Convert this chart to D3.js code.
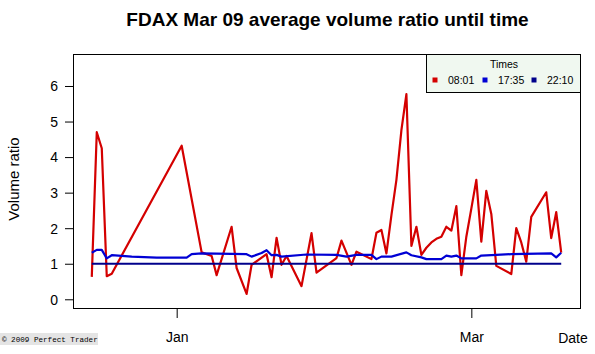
<!DOCTYPE html>
<html>
<head>
<meta charset="utf-8">
<script src="https://cdn.jsdelivr.net/npm/d3@7"></script>
<style>
  body { margin: 0; background: #fff; }
</style>
</head>
<body>
<div id="chart"></div>
<script>
// day offsets from 2009-01-01 and ratios
const redDays = [-17, -16, -15, -14, -13, 1, 5, 7, 8, 11, 12, 14, 15, 18, 19, 20, 21, 22, 25, 27, 28,
  32, 33, 35, 36, 39, 40, 41, 42, 43, 44, 45, 46, 47, 48, 49, 50, 51, 52, 53, 54, 55, 56, 57, 58, 59,
  60, 61, 62, 63, 64, 67, 68, 69, 70, 71, 74, 75, 76, 77];
const redVals = [0.63, 4.7, 4.25, 0.65, 0.72, 4.32, 1.32, 1.22, 0.68, 2.04, 0.88, 0.15, 0.97, 1.27, 0.62, 1.73, 0.97, 1.22, 0.37, 1.86, 0.75,
  1.16, 1.65, 0.97, 1.34, 1.13, 1.87, 1.95, 1.29, 2.37, 3.36, 4.76, 5.77, 1.5, 2.04, 1.25, 1.45, 1.6, 1.7, 1.76, 2.04, 1.93, 2.62, 0.68, 1.76, 2.55,
  3.36, 1.62, 3.05, 2.4, 0.94, 0.71, 2.0, 1.6, 1.06, 2.32, 3.01, 1.72, 2.45, 1.31];

const blueDays = [-17, -16, -15, -14, -13, -9, -4, 2, 3, 5, 14, 15, 17, 18, 19, 20, 21, 26, 32, 34, 36, 39, 40, 41, 43,
  46, 47, 49, 50, 53, 54, 55, 56, 57, 60, 61, 64, 67, 75, 76, 77];
const blueVals = [1.31, 1.39, 1.39, 1.15, 1.24, 1.2, 1.17, 1.17, 1.27, 1.29, 1.27, 1.2, 1.3, 1.38, 1.24, 1.25, 1.2, 1.26, 1.25, 1.2, 1.25, 1.25, 1.13, 1.2, 1.2,
  1.32, 1.24, 1.18, 1.13, 1.13, 1.23, 1.2, 1.23, 1.15, 1.15, 1.23, 1.25, 1.27, 1.29, 1.18, 1.31];

const navyDays = [-17, 77];
const navyVals = [1.0, 1.0];

const seriesNames = ["08:01", "17:35", "22:10"];
const seriesColors = ["#d40000", "#0000d4", "#00008b"];
const yTicks = [0, 1, 2, 3, 4, 5, 6];
const xTickDates = ["2009-01-01", "2009-03-01"];
const xTickLabels = ["Jan", "Mar"];

const width = 595, height = 354;
const mLeft = 73, mRight = 580, mTop = 54, mBottom = 308;
const sans = "Liberation Sans, Arial, sans-serif";

const base = new Date(2009, 0, 1);
const toDate = (d) => d3.timeDay.offset(base, d);
const mk = (days, vals) => days.map((d, i) => ({ date: toDate(d), v: vals[i] }));
const series = [mk(redDays, redVals), mk(blueDays, blueVals), mk(navyDays, navyVals)];

// R style 4% padding around data extent
const ext = d3.extent(redDays.concat(blueDays));
const pad = (ext[1] - ext[0]) * 0.04;
const x = d3.scaleTime()
  .domain([new Date(+toDate(ext[0]) - pad * 864e5), new Date(+toDate(ext[1]) + pad * 864e5)])
  .range([mLeft, mRight]);
const y = d3.scaleLinear().domain([-0.245, 6.9]).range([mBottom, mTop]);

const svg = d3.select("#chart").append("svg")
  .attr("width", width).attr("height", height)
  .style("font-family", sans);

svg.append("text")
  .attr("x", (mLeft + mRight) / 2 + 1).attr("y", 26)
  .attr("text-anchor", "middle")
  .attr("font-size", 19).attr("font-weight", "bold")
  .text("FDAX Mar 09 average volume ratio until time");

// y axis
const yAxis = svg.append("g").attr("transform", `translate(${mLeft - 8},0)`)
  .call(d3.axisLeft(y).tickValues(yTicks).tickSize(8).tickPadding(6));
yAxis.select(".domain").remove();
yAxis.selectAll("line").attr("transform", "translate(8,0)").attr("stroke", "#000");
yAxis.selectAll("text").attr("font-size", 14).attr("font-family", sans)
  .attr("fill", "#000").attr("dy", "0.35em").attr("x", -7);

svg.append("text")
  .attr("transform", `translate(19,${(mTop + mBottom) / 2 - 2}) rotate(-90)`)
  .attr("text-anchor", "middle").attr("font-size", 15)
  .text("Volume ratio");

// x axis
const xAxis = svg.append("g").attr("transform", `translate(0,${mBottom})`)
  .call(d3.axisBottom(x)
    .tickValues(xTickDates.map((s) => d3.timeParse("%Y-%m-%d")(s)))
    .tickFormat((d, i) => xTickLabels[i])
    .tickSize(10).tickPadding(14));
xAxis.select(".domain").remove();
xAxis.selectAll("line").attr("stroke", "#000");
xAxis.selectAll("text").attr("font-size", 14).attr("font-family", sans).attr("fill", "#000");

svg.append("text")
  .attr("x", 573).attr("y", 343)
  .attr("text-anchor", "middle").attr("font-size", 14)
  .text("Date");

// lines
const line = d3.line().x((d) => x(d.date)).y((d) => y(d.v));
svg.append("g").selectAll("path")
  .data(series)
  .join("path")
  .attr("d", line)
  .attr("fill", "none")
  .attr("stroke", (d, i) => seriesColors[i])
  .attr("stroke-width", 2.2)
  .attr("stroke-linejoin", "round");

// plot box
svg.append("rect")
  .attr("x", mLeft + 0.5).attr("y", mTop + 0.5)
  .attr("width", mRight - mLeft).attr("height", mBottom - mTop)
  .attr("fill", "none").attr("stroke", "#000");

// legend
const lg = svg.append("g");
lg.append("rect")
  .attr("x", 426.5).attr("y", mTop + 0.5)
  .attr("width", mRight - 426).attr("height", 38)
  .attr("fill", "#f0f8f0").attr("stroke", "#000");
lg.append("text")
  .attr("x", 504).attr("y", 68)
  .attr("text-anchor", "middle").attr("font-size", 10.5)
  .text("Times");
const legX = [435, 485, 534];
lg.selectAll("g.item")
  .data(seriesNames)
  .join("g")
  .attr("class", "item")
  .each(function (name, i) {
    const g = d3.select(this);
    g.append("rect").attr("x", legX[i] - 2.5).attr("y", 77.5).attr("width", 5).attr("height", 5)
      .attr("fill", seriesColors[i]);
    g.append("text").attr("x", legX[i] + 13).attr("y", 84)
      .attr("font-size", 10.5).text(name);
  });

// copyright tag
svg.append("rect").attr("x", 0).attr("y", 333).attr("width", 98).attr("height", 12).attr("fill", "#e4e4e4");
svg.append("text")
  .attr("x", 2).attr("y", 342)
  .style("font-family", "Liberation Mono, DejaVu Sans Mono, monospace")
  .attr("font-size", 7.6)
  .text("\u00a9 2009 Perfect Trader");
</script>
</body>
</html>
